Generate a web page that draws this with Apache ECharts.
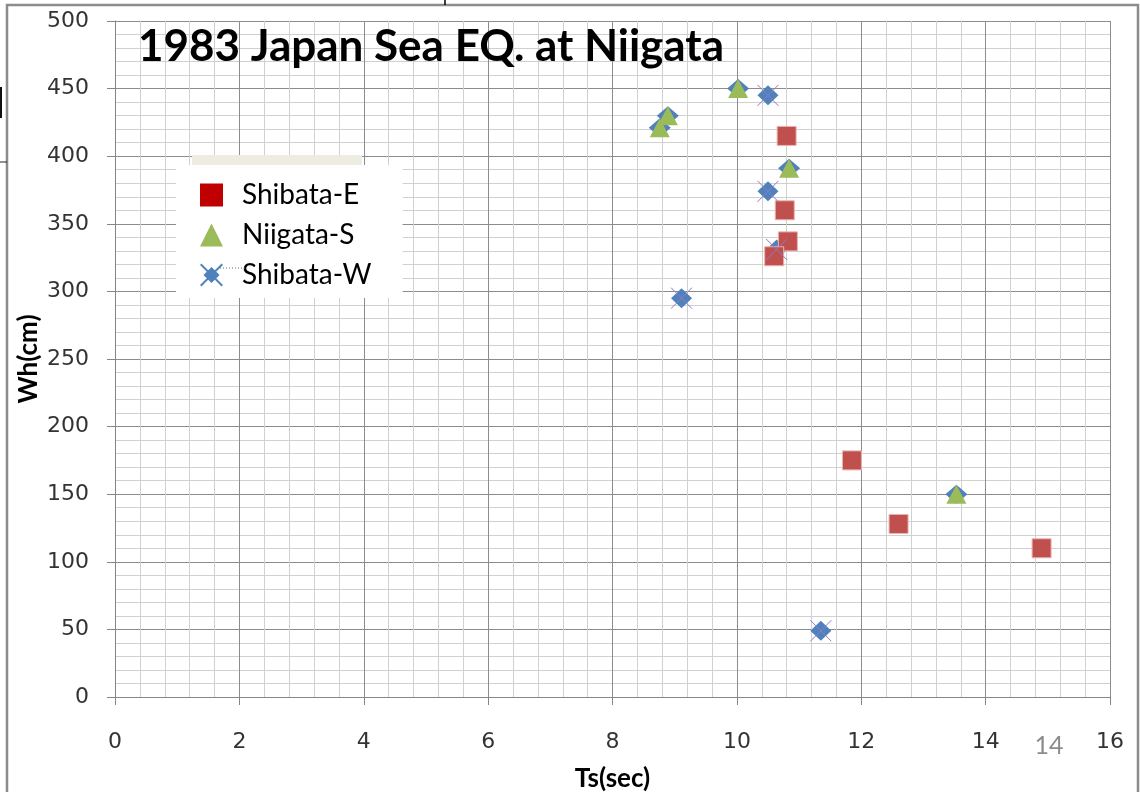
<!DOCTYPE html>
<html><head><meta charset="utf-8">
<script src="https://cdn.jsdelivr.net/npm/echarts@6/dist/echarts.min.js"></script>
<style>html,body{margin:0;padding:0;background:#fff}#c{width:1140px;height:792px}</style>
</head><body><div id="c"></div>
<script>
// ---- data ----
const chartTitle = '1983 Japan Sea EQ. at Niigata';
const xAxisName = 'Ts(sec)';
const yAxisName = 'Wh(cm)';
const seriesNames = ['Shibata-E', 'Niigata-S', 'Shibata-W'];
const tsShibataE = [10.8, 10.77, 10.82, 10.6, 11.85, 12.6, 14.9];
const whShibataE = [415, 360, 337, 326, 175, 128, 110];
const tsNiigataS = [8.76, 8.89, 10.02, 10.84, 13.53];
const whNiigataS = [421, 430, 450, 391, 150];
const tsShibataW = [10.5, 10.5, 10.64, 9.11, 11.35];
const whShibataW = [445, 374, 331, 295, 49];
const xTickLabels = [0, 2, 4, 6, 8, 10, 12, 14, 16];
const yTickLabels = [0, 50, 100, 150, 200, 250, 300, 350, 400, 450, 500];
const pageNumber = '14';

function pairs(xs, ys) { return xs.map((x, i) => [x, ys[i]]); }

const X_PATH = 'path://M0,0L20,20M20,0L0,20';
const W_ICON = 'path://M10,3L17,10L10,17L3,10Z M0,1.2L1.2,0L20,18.8L18.8,20Z M18.8,0L20,1.2L1.2,20L0,18.8Z';

const chart = echarts.init(document.getElementById('c'), null, {renderer: 'canvas'});
const axisGray = '#868686';
const labelFont = {fontFamily: 'DejaVu Sans', fontSize: 22, color: '#333'};
const nameFont = {fontFamily: 'Lato', fontWeight: 'bold', fontSize: 26, color: '#000'};

chart.setOption({
  animation: false,
  backgroundColor: '#fff',
  title: {
    text: chartTitle, left: 138, top: 25, padding: 0,
    textStyle: {fontFamily: 'Lato', fontWeight: 'bold', fontSize: 44, color: '#000'}
  },
  grid: {left: 115, right: 30, top: 21, bottom: 95, containLabel: false, outerBoundsMode: 'none'},
  legend: {
    orient: 'vertical', left: 176, top: 165,
    padding: [16, 31, 9, 24], backgroundColor: '#fff',
    itemWidth: 23, itemHeight: 23, itemGap: 12, selectedMode: false,
    textStyle: {fontFamily: 'Lato', fontSize: 28, color: '#000', padding: [0, 0, 0, 14], lineHeight: 23},
    data: [
      {name: seriesNames[0], icon: 'rect', itemStyle: {color: '#c00000', borderWidth: 0, opacity: 1}},
      {name: seriesNames[1], icon: 'triangle', itemStyle: {color: '#9bbb59', borderWidth: 0, opacity: 1}},
      {name: seriesNames[2], icon: W_ICON, itemStyle: {color: '#4f81bd', borderWidth: 0, opacity: 1}}
    ]
  },
  xAxis: {
    type: 'value', min: xTickLabels[0], max: xTickLabels[xTickLabels.length - 1], interval: xTickLabels[1] - xTickLabels[0],
    name: xAxisName, nameLocation: 'middle', nameGap: 69, nameTextStyle: nameFont, nameMoveOverlap: false,
    axisLine: {show: true, lineStyle: {color: axisGray, width: 1}},
    axisTick: {show: true, length: 8, lineStyle: {color: axisGray}},
    axisLabel: Object.assign({margin: 34}, labelFont),
    splitLine: {show: true, lineStyle: {color: '#8c8c8c', width: 1}},
    minorTick: {show: false, splitNumber: 5},
    minorSplitLine: {show: true, lineStyle: {color: '#d0d0d0', width: 1}}
  },
  yAxis: {
    type: 'value', min: yTickLabels[0], max: yTickLabels[yTickLabels.length - 1], interval: yTickLabels[1] - yTickLabels[0],
    name: yAxisName, nameLocation: 'middle', nameGap: 73, nameRotate: 90, nameTextStyle: nameFont, nameMoveOverlap: false,
    axisLine: {show: true, lineStyle: {color: axisGray, width: 1}},
    axisTick: {show: true, length: 8, lineStyle: {color: axisGray}},
    axisLabel: Object.assign({margin: 26}, labelFont),
    splitLine: {show: true, lineStyle: {color: '#8c8c8c', width: 1}},
    minorTick: {show: false, splitNumber: 5},
    minorSplitLine: {show: true, lineStyle: {color: '#d0d0d0', width: 1}}
  },
  series: [
    {name: seriesNames[2], type: 'scatter', data: pairs(tsShibataW, whShibataW),
     symbol: 'diamond', symbolSize: [21, 20], itemStyle: {color: '#4f81bd', opacity: 1}},
    {name: seriesNames[1], type: 'scatter', data: pairs(tsNiigataS, whNiigataS),
     symbol: 'diamond', symbolSize: [22, 19], itemStyle: {color: '#4f81bd', opacity: 1}},
    {name: seriesNames[0], type: 'scatter', data: pairs(tsShibataE, whShibataE),
     symbol: 'rect', symbolSize: 19, itemStyle: {color: '#c0504d', borderColor: '#e8b4b3', borderWidth: 1, opacity: 1}},
    {name: seriesNames[1], type: 'scatter', data: pairs(tsNiigataS, whNiigataS),
     symbol: 'triangle', symbolSize: [20, 19], itemStyle: {color: '#9bbb59', opacity: 1}},
    {name: seriesNames[2], type: 'scatter', data: pairs(tsShibataW, whShibataW),
     symbol: X_PATH, symbolSize: 21, itemStyle: {color: 'rgba(0,0,0,0)', borderColor: '#8e7cc3', borderWidth: 1, opacity: 1}}
  ],
  graphic: [
    {type: 'rect', z: 100, silent: true, shape: {x: 7, y: 5, width: 1131, height: 800},
     style: {fill: 'none', stroke: '#8c8c8c', lineWidth: 2.5}},
    {type: 'rect', z: 100, silent: true, shape: {x: 192, y: 155, width: 170, height: 10}, style: {fill: '#eeece1'}},
    {type: 'line', z: 100, silent: true, shape: {x1: 445, y1: 0, x2: 445, y2: 5}, style: {stroke: '#000', lineWidth: 1.5}},
    {type: 'rect', z: 100, silent: true, shape: {x: 0, y: 87, width: 2, height: 31}, style: {fill: '#111'}},
    {type: 'line', z: 100, silent: true, shape: {x1: 0, y1: 162, x2: 7, y2: 162}, style: {stroke: '#222', lineWidth: 1}},
    {type: 'line', z: 100, silent: true, shape: {x1: 220, y1: 268, x2: 247, y2: 268}, style: {stroke: '#666', lineWidth: 1, lineDash: [1, 2]}},
    {type: 'text', z: 100, silent: true, x: 1049, y: 746,
     style: {text: pageNumber, fontFamily: 'Lato', fontSize: 25, fill: '#8c8c8c', align: 'center', verticalAlign: 'middle'}}
  ]
});
</script>
</body></html>
